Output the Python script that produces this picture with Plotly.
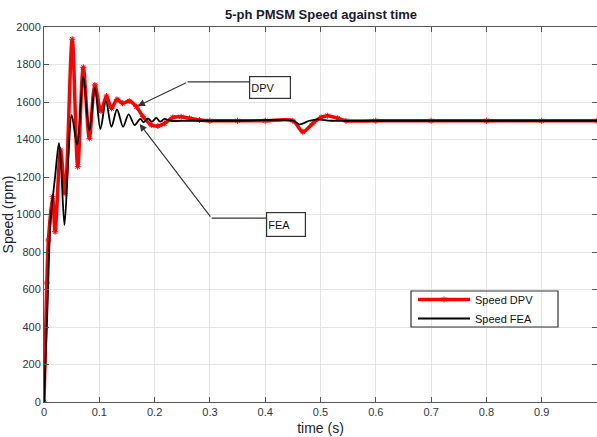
import plotly.graph_objects as go

# ---- data ----
t_dpv = [0.000, 0.005, 0.008, 0.0155, 0.020, 0.030, 0.038, 0.051, 0.061, 0.071,
         0.082, 0.092, 0.103, 0.113, 0.122, 0.132, 0.142, 0.154, 0.167, 0.179,
         0.194, 0.206, 0.218, 0.233, 0.248, 0.263, 0.281, 0.300, 0.350, 0.400,
         0.450, 0.468, 0.486, 0.501, 0.513, 0.531, 0.546, 0.600, 0.700, 0.800,
         0.900, 1.000]
speed_dpv = [0, 635, 864, 1095, 908, 1344, 1113, 1935, 1255, 1785,
             1406, 1691, 1552, 1632, 1566, 1614, 1593, 1605, 1575, 1522,
             1477, 1472, 1486, 1518, 1521, 1513, 1504, 1500, 1500, 1500,
             1500, 1441, 1486, 1518, 1527, 1513, 1500, 1500, 1500, 1500,
             1500, 1500]

t_fea = [0.000, 0.006, 0.012, 0.020, 0.027, 0.031, 0.037, 0.044, 0.050, 0.060,
         0.071, 0.082, 0.092, 0.102, 0.112, 0.122, 0.132, 0.143, 0.153, 0.164,
         0.174, 0.180, 0.188, 0.195, 0.203, 0.210, 0.218, 0.228, 0.260, 0.350,
         0.450, 0.462, 0.480, 0.495, 0.520, 0.600, 0.700, 0.800, 0.900, 1.000]
speed_fea = [0, 480, 970, 1200, 1380, 1250, 944, 1300, 1531, 1371,
             1735, 1445, 1675, 1455, 1605, 1468, 1560, 1468, 1534, 1477,
             1510, 1492, 1512, 1495, 1515, 1495, 1510, 1500, 1500, 1500,
             1500, 1481, 1500, 1507, 1500, 1500, 1500, 1500, 1500, 1500]

x_ticks = [0, 0.1, 0.2, 0.3, 0.4, 0.5, 0.6, 0.7, 0.8, 0.9, 1]
y_ticks = [0, 200, 400, 600, 800, 1000, 1200, 1400, 1600, 1800, 2000]

FONT = "Liberation Sans Narrow, Arial Narrow, Liberation Sans, Arial, sans-serif"

fig = go.Figure()
fig.add_trace(go.Scatter(
    x=t_dpv, y=speed_dpv, name="Speed DPV", mode="lines+markers",
    line=dict(color="#ff0000", width=3.5, shape="spline", smoothing=0.9),
    marker=dict(symbol="asterisk-open", size=5, color="#ff0000",
                line=dict(color="#e00000", width=1)),
))
fig.add_trace(go.Scatter(
    x=t_fea, y=speed_fea, name="Speed FEA", mode="lines",
    line=dict(color="#000000", width=1.8, shape="spline", smoothing=0.9),
))

axis_common = dict(
    showline=True, linecolor="#555555", linewidth=1, mirror="allticks",
    ticks="inside", ticklen=5, tickcolor="#555555",
    showgrid=True, gridcolor="#e4e4e4", gridwidth=1, zeroline=False,
    tickfont=dict(family=FONT, size=11, color="#333344"),
)

fig.update_xaxes(range=[0, 1], tickvals=x_ticks, **axis_common,
                 title=dict(text="time (s)", font=dict(family=FONT, size=14, color="#222233"),
                            standoff=5))
fig.update_yaxes(range=[0, 2000], tickvals=y_ticks, **axis_common,
                 title=dict(text="Speed (rpm)", font=dict(family=FONT, size=14, color="#222233"),
                            standoff=0))

# annotation boxes and bent arrows
fig.add_annotation(x=0.409, y=1675, xref="x", yref="y", text="DPV", showarrow=False,
                   width=38, height=19, align="left", bordercolor="#333333", borderwidth=1.2,
                   borderpad=1, bgcolor="white", font=dict(family=FONT, size=11, color="#111"))
fig.add_annotation(x=0.437, y=949, xref="x", yref="y", text="FEA", showarrow=False,
                   width=36, height=21, align="left", bordercolor="#333333", borderwidth=1.2,
                   borderpad=1, bgcolor="white", font=dict(family=FONT, size=11, color="#111"))
fig.add_shape(type="line", xref="x", yref="y", x0=0.2597, y0=1707, x1=0.3715, y1=1707,
              line=dict(color="#333333", width=1.2))
fig.add_shape(type="line", xref="x", yref="y", x0=0.303, y0=981, x1=0.402, y1=981,
              line=dict(color="#333333", width=1.2))
fig.add_annotation(x=0.1695, y=1579, ax=0.2597, ay=1707, xref="x", yref="y",
                   axref="x", ayref="y", text="", showarrow=True, arrowhead=2,
                   arrowsize=1.3, arrowwidth=1.1, arrowcolor="#333333")
fig.add_annotation(x=0.173, y=1483, ax=0.303, ay=981, xref="x", yref="y",
                   axref="x", ayref="y", text="", showarrow=True, arrowhead=2,
                   arrowsize=1.3, arrowwidth=1.1, arrowcolor="#333333")

# legend frame
fig.add_shape(type="rect", xref="paper", yref="paper",
              x0=(411 - 44) / 553, x1=(558 - 44) / 553,
              y0=(402 - 327) / 375, y1=(402 - 291) / 375,
              line=dict(color="#333333", width=1.2), fillcolor="rgba(0,0,0,0)", layer="above")

fig.update_layout(
    width=597, height=437,
    margin=dict(l=44, r=0, t=27, b=35),
    paper_bgcolor="white", plot_bgcolor="white",
    title=dict(text="<b>5-ph PMSM Speed against time</b>", x=(321 - 0) / 597, xanchor="center",
               y=1 - 14 / 437, yanchor="middle",
               font=dict(family=FONT, size=13, color="#1a1a30")),
    legend=dict(x=(413 - 44) / 553, xanchor="left", y=(402 - 309) / 375, yanchor="middle",
                bgcolor="rgba(0,0,0,0)", borderwidth=0, itemwidth=52,
                font=dict(family=FONT, size=11, color="#111111"), tracegroupgap=0),
    showlegend=True,
)

fig.write_html("out.html", config={"displayModeBar": False},
               post_script="document.body.style.margin='0';document.body.style.overflow='hidden';")
